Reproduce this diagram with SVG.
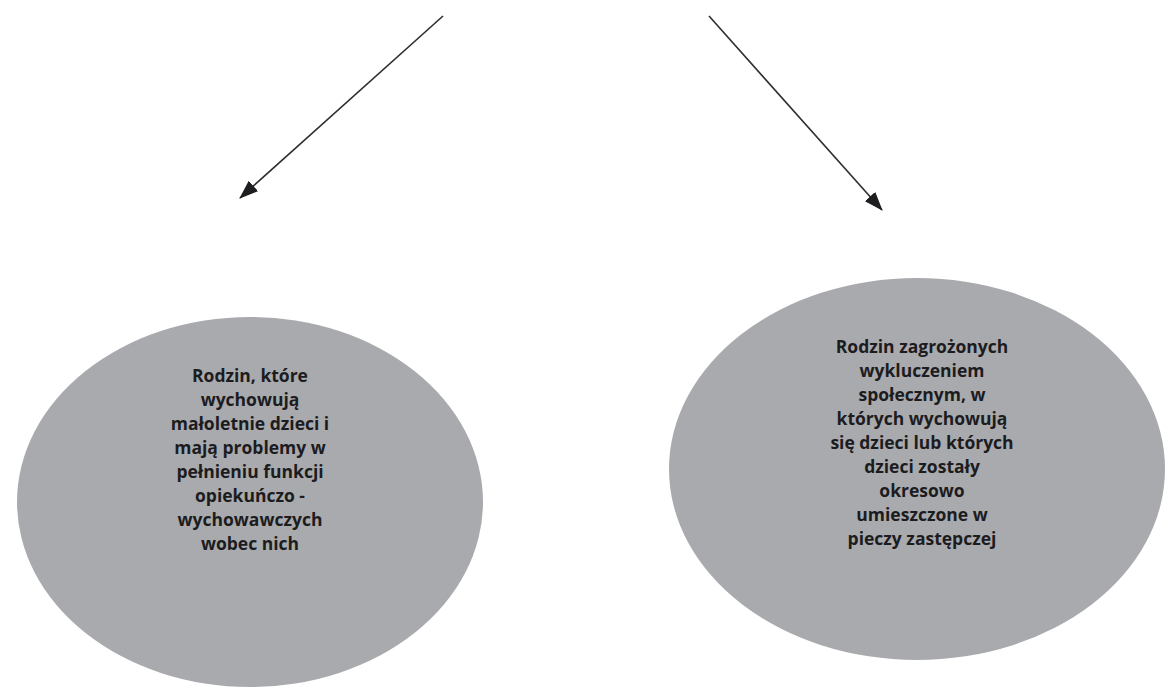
<svg xmlns="http://www.w3.org/2000/svg" width="1167" height="689" viewBox="0 0 1167 689">
<style>
.node ellipse{fill:#a9aaae;}
.node text{font-family:"Open Sans","Noto Sans","Liberation Sans",sans-serif;font-weight:bold;font-size:17.5px;fill:#1c1c1e;text-anchor:middle;}
.conn line{stroke:#2e2e30;stroke-width:1.6;fill:none;}
</style>
<defs>
<marker id="ah" markerWidth="19" markerHeight="14" refX="18" refY="7" orient="auto" markerUnits="userSpaceOnUse" viewBox="0 0 19 14">
<path d="M0,0 L19,7 L0,14 Z" fill="#1e1e20"/>
</marker>
</defs>
<rect width="1167" height="689" fill="#ffffff"/>
<g id="connectors" class="conn">
<line x1="443" y1="16" x2="240" y2="198" marker-end="url(#ah)"/>
<line x1="709" y1="16" x2="882" y2="210" marker-end="url(#ah)"/>
</g>
<g id="node-left" class="node">
<ellipse cx="250" cy="502" rx="233" ry="185"/>
<text x="250" y="382">Rodzin, które</text>
<text x="250" y="406">wychowują</text>
<text x="250" y="430">małoletnie dzieci i</text>
<text x="250" y="454">mają problemy w</text>
<text x="250" y="478">pełnieniu funkcji</text>
<text x="250" y="502">opiekuńczo -</text>
<text x="250" y="526">wychowawczych</text>
<text x="250" y="550">wobec nich</text>
</g>
<g id="node-right" class="node">
<ellipse cx="917" cy="469" rx="248" ry="191"/>
<text x="922" y="353">Rodzin zagrożonych</text>
<text x="922" y="377">wykluczeniem</text>
<text x="922" y="401">społecznym, w</text>
<text x="922" y="425">których wychowują</text>
<text x="922" y="449">się dzieci lub których</text>
<text x="922" y="473">dzieci zostały</text>
<text x="922" y="497">okresowo</text>
<text x="922" y="521">umieszczone w</text>
<text x="922" y="545">pieczy zastępczej</text>
</g>
</svg>
